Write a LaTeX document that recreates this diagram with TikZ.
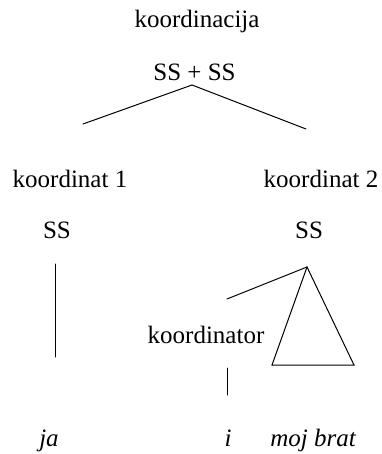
\documentclass[tikz,border=0pt]{standalone}
\usepackage{fontspec}
\setmainfont{Liberation Serif}
\usepackage{tikz}
\usetikzlibrary{positioning}

\begin{document}
\begin{tikzpicture}[
x=1pt,y=-1pt,
lbl/.style={anchor=base,inner sep=0pt,font=\fontsize{25}{30}\selectfont},
wrd/.style={lbl,font=\fontsize{25}{30}\selectfont\itshape},
branch/.style={line width=1pt,line cap=round}
]
\useasboundingbox (0,0) rectangle (381,454);
% labels
\node[lbl] (koord) at (197,28) {koordinacija};
\node[lbl] (top) at (194.5,81) {SS + SS};
\node[lbl] (k1) at (70,188) {koordinat 1};
\node[lbl] (k2) at (321,188) {koordinat 2};
\node[lbl] (ss1) at (57,238) {SS};
\node[lbl] (ss2) at (309,238) {SS};
\node[lbl] (kor) at (206,343) {koordinator};
\node[wrd] (ja) at (49,446) {ja};
\node[wrd] (i) at (228,446) {i};
\node[wrd] (brat) at (313,446) {moj brat};
% branch ends
\coordinate (apex) at (192,85);
\coordinate (left) at (83,124);
\coordinate (right) at (306,129);
\coordinate (v1a) at (55,264);
\coordinate (v1b) at (55,357);
\coordinate (tri) at (307,267);
\coordinate (tril) at (272,365);
\coordinate (trir) at (354,365);
\coordinate (korend) at (227,299);
\coordinate (v2a) at (227,368);
\coordinate (v2b) at (227,395);
\draw[branch] (left) -- (apex) -- (right);
\draw[branch] (v1a) -- (v1b);
\draw[branch,line join=miter] (tri) -- (tril) -- (trir) -- cycle;
\draw[branch] (tri) -- (korend);
\draw[branch] (v2a) -- (v2b);
\end{tikzpicture}
\end{document}
